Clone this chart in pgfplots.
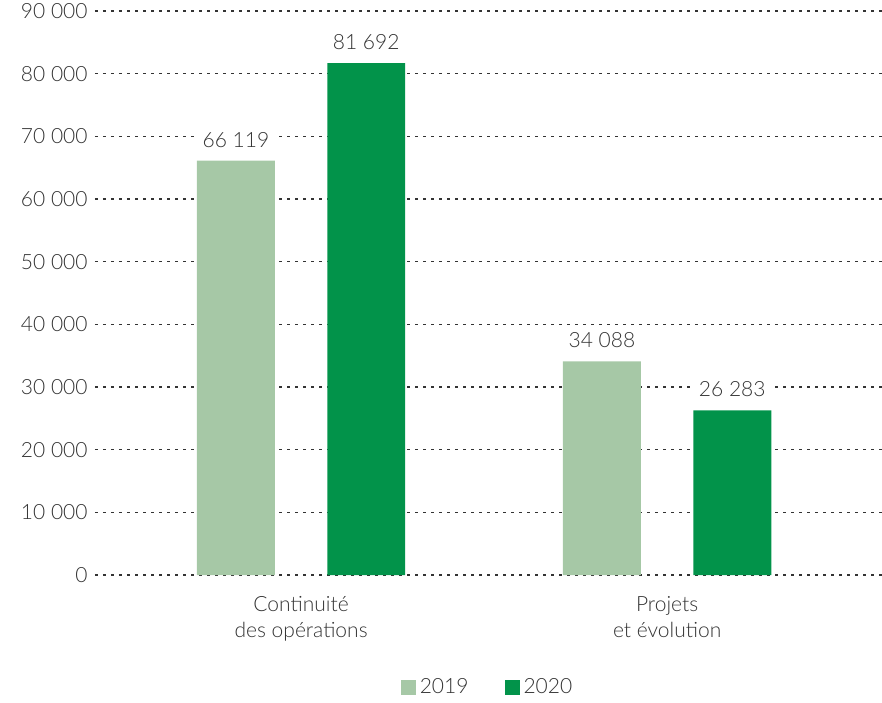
\documentclass[border=0pt]{standalone}
\usepackage{fontspec}
\setmainfont{Lato}[UprightFont=* Light]
\usepackage{pgfplots}
\pgfplotsset{compat=1.18}
\definecolor{lightg}{HTML}{A6C8A6}
\definecolor{darkg}{HTML}{02934A}
\definecolor{txt}{HTML}{333333}
\begin{document}
\fontsize{10.5}{12.5}\selectfont
\begin{tikzpicture}
\useasboundingbox (-47.5pt,-63.5pt) rectangle (393.5pt,287.5pt);
\begin{axis}[
  at={(0,0)}, anchor=south west,
  scale only axis, width=393.5pt, height=282pt,
  ybar, bar width=0.213,
  xmin=-0.563, xmax=1.587,
  ymin=0, ymax=90000,
  ytick={0,10000,...,90000},
  xtick={0,1},
  xticklabels={{Continuité\\des opérations},{Projets\\et évolution}},
  xticklabel style={align=center, text=txt, yshift=-7pt, font=\fontsize{10.5}{13}\selectfont},
  yticklabel style={text=txt},
  axis line style={draw=none},
  major tick length=0pt,
  ymajorgrids,
  grid style={black!80, line width=0.55pt, dash pattern=on 1.6pt off 2.4pt},
  scaled y ticks=false,
  /pgf/number format/assume math mode=true,
  /pgf/number format/1000 sep={\ },
  y tick label style={/pgf/number format/fixed},
  nodes near coords,
  nodes near coords style={text=txt, fill=white, inner sep=3pt, yshift=3.5pt, /pgf/number format/1000 sep={\ }},
  legend style={at={(0.5,-0.2)}, anchor=center, draw=none, legend columns=2,
    /tikz/every even column/.append style={column sep=16pt}, text=txt,
    font=\fontsize{10.5}{12.5}\selectfont},
  legend image code/.code={\fill[#1] (0pt,-3.75pt) rectangle (7.5pt,3.75pt);},
]
\addplot[fill=lightg, draw=none, bar shift=-0.178] coordinates {(0,66119) (1,34088)};
\addplot[fill=darkg, draw=none, bar shift=0.178] coordinates {(0,81692) (1,26283)};
\legend{2019,2020}
\end{axis}
\end{tikzpicture}
\end{document}
